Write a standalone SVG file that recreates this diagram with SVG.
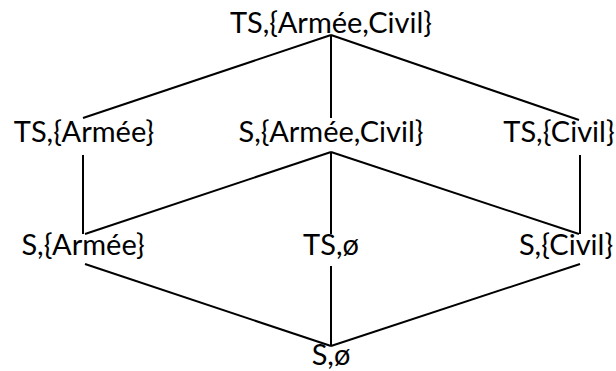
<svg xmlns="http://www.w3.org/2000/svg" width="616" height="371" viewBox="0 0 616 371">
<style>
text{font-family:"Lato","Open Sans",sans-serif;font-size:29px;fill:#000;text-anchor:middle}
.e line{stroke:#000;stroke-width:2}
</style>
<rect width="616" height="371" fill="#fff"/>
<g class="e" id="edges">
<line x1="331" y1="35" x2="83" y2="118"/>
<line x1="331" y1="35" x2="331" y2="118"/>
<line x1="331" y1="35" x2="579" y2="120"/>
<line x1="83" y1="155" x2="83" y2="234"/>
<line x1="331" y1="152" x2="85" y2="234"/>
<line x1="331" y1="152" x2="331" y2="234"/>
<line x1="331" y1="152" x2="579" y2="234"/>
<line x1="580" y1="155" x2="580" y2="234"/>
<line x1="85" y1="264" x2="331" y2="346"/>
<line x1="331" y1="266" x2="331" y2="346"/>
<line x1="580" y1="264" x2="331" y2="346"/>
</g>
<g id="n1"><text x="331" y="33">TS,{Armée,Civil}</text></g>
<g id="n2"><text x="84" y="142">TS,{Armée}</text></g>
<g id="n3"><text x="331" y="142">S,{Armée,Civil}</text></g>
<g id="n4"><text x="559" y="142">TS,{Civil}</text></g>
<g id="n5"><text x="83" y="255">S,{Armée}</text></g>
<g id="n6"><text x="331" y="255">TS,ø</text></g>
<g id="n7"><text x="566" y="255">S,{Civil}</text></g>
<g id="n8"><text x="331" y="365">S,ø</text></g>
</svg>
